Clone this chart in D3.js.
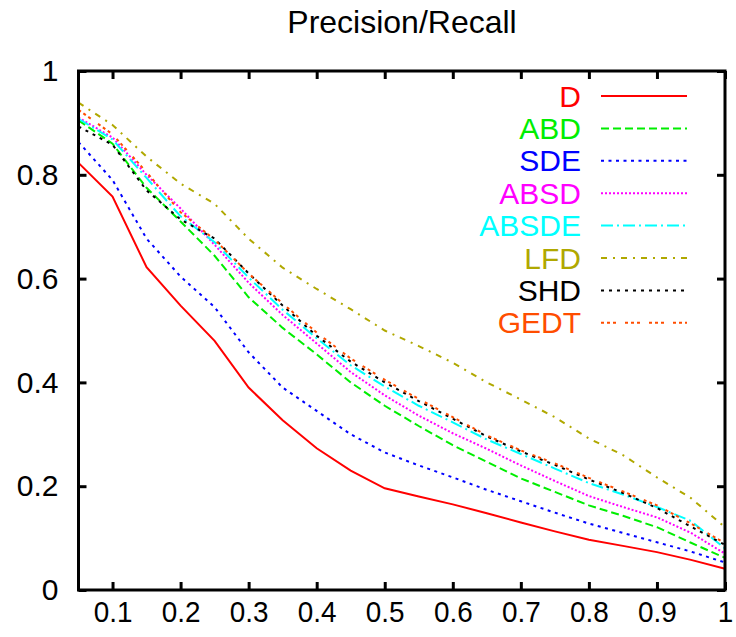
<!DOCTYPE html>
<html>
<head>
<meta charset="utf-8">
<script src="https://cdn.jsdelivr.net/npm/d3@7"></script>
<style>
    body { margin: 0; background: #fff; }
    svg { display: block; font-family: "Liberation Sans", Arial, sans-serif; }
</style>
</head>
<body>
<svg id="chart" width="736" height="637"></svg>
<script>
// recall values (x) shared by every curve
const recall = [0.05, 0.1, 0.15, 0.2, 0.25, 0.3, 0.35, 0.4, 0.45, 0.5,
    0.55, 0.6, 0.65, 0.7, 0.75, 0.8, 0.85, 0.9, 0.95, 1.0];

// precision per method
const d_values = [0.823, 0.758, 0.622, 0.548, 0.48, 0.39, 0.327, 0.273, 0.23, 0.196,
    0.18, 0.165, 0.148, 0.13, 0.113, 0.097, 0.085, 0.073, 0.058, 0.041];
const abd_values = [0.905, 0.86, 0.775, 0.71, 0.644, 0.564, 0.505, 0.454, 0.40, 0.355,
    0.316, 0.279, 0.247, 0.215, 0.189, 0.163, 0.143, 0.121, 0.091, 0.062];
const sde_values = [0.863, 0.79, 0.677, 0.604, 0.545, 0.458, 0.39, 0.345, 0.30, 0.265,
    0.24, 0.217, 0.193, 0.171, 0.149, 0.128, 0.11, 0.092, 0.074, 0.053];
const absd_values = [0.91, 0.872, 0.8, 0.735, 0.665, 0.592, 0.53, 0.475, 0.42, 0.375,
    0.336, 0.302, 0.272, 0.24, 0.21, 0.181, 0.16, 0.14, 0.11, 0.07];
const absde_values = [0.908, 0.868, 0.794, 0.72, 0.67, 0.602, 0.54, 0.485, 0.433, 0.392,
    0.355, 0.323, 0.29, 0.262, 0.234, 0.206, 0.184, 0.16, 0.133, 0.08];
const lfd_values = [0.939, 0.896, 0.835, 0.783, 0.744, 0.677, 0.621, 0.58, 0.541, 0.5,
    0.47, 0.438, 0.40, 0.367, 0.333, 0.292, 0.26, 0.217, 0.177, 0.121];
const shd_values = [0.893, 0.858, 0.77, 0.714, 0.677, 0.61, 0.548, 0.49, 0.44, 0.40,
    0.364, 0.33, 0.296, 0.267, 0.241, 0.213, 0.187, 0.158, 0.122, 0.087];
const gedt_values = [0.925, 0.878, 0.805, 0.728, 0.675, 0.61, 0.552, 0.496, 0.446, 0.405,
    0.368, 0.333, 0.298, 0.269, 0.244, 0.216, 0.19, 0.163, 0.128, 0.09];

const series_names = ['D', 'ABD', 'SDE', 'ABSD', 'ABSDE', 'LFD', 'SHD', 'GEDT'];
const series_values = [d_values, abd_values, sde_values, absd_values,
    absde_values, lfd_values, shd_values, gedt_values];

const x_ticks = [0.1, 0.2, 0.3, 0.4, 0.5, 0.6, 0.7, 0.8, 0.9, 1];
const y_ticks = [0, 0.2, 0.4, 0.6, 0.8, 1];

// gnuplot-like line styles
const colors = ['#ff0000', '#00ee00', '#0000ff', '#ff00ff', '#00ffff', '#b0a800', '#000000', '#ff4d00'];
const dashes = [null, '8,4', '3,4.5', '2,2', '12,4,2,4', '6,6,2,6', '3,5', '3,3,3,3,3,9'];

let svg = d3.select('#chart');

let plot_left = 78.5, plot_right = 725, plot_top = 71, plot_bottom = 590;

let x = d3.scaleLinear().domain([0.05, 1]).range([plot_left, plot_right]);
let y = d3.scaleLinear().domain([0, 1]).range([plot_bottom, plot_top]);

// title
svg.append('text')
    .attr('x', 402)
    .attr('y', 33)
    .attr('text-anchor', 'middle')
    .style('font-size', '32px')
    .text('Precision/Recall');

function styleAxis(g) {
    g.select('.domain').remove();
    g.selectAll('.tick line').attr('stroke', '#000').attr('stroke-width', 3);
    g.selectAll('.tick text').style('font-size', '30px').attr('fill', '#000');
}

// bottom axis with inward ticks
svg.append('g')
    .attr('transform', 'translate(0,' + plot_bottom + ')')
    .call(d3.axisBottom(x).tickValues(x_ticks).tickSize(-8).tickPadding(11)
        .tickFormat(d => d === 1 ? '1' : d3.format('.1f')(d)))
    .call(styleAxis)
    .selectAll('.tick text')
    .attr('transform', 'scale(0.93,1)');

// mirrored top axis
svg.append('g')
    .attr('transform', 'translate(0,' + plot_top + ')')
    .call(d3.axisTop(x).tickValues(x_ticks).tickSize(-8).tickFormat(''))
    .call(styleAxis);

// left axis
svg.append('g')
    .attr('transform', 'translate(' + plot_left + ',0)')
    .call(d3.axisLeft(y).tickValues(y_ticks).tickSize(-8).tickPadding(20)
        .tickFormat(d => d === 0 || d === 1 ? String(d) : d3.format('.1f')(d)))
    .call(styleAxis);

// mirrored right axis
svg.append('g')
    .attr('transform', 'translate(' + plot_right + ',0)')
    .call(d3.axisRight(y).tickValues(y_ticks).tickSize(-8).tickFormat(''))
    .call(styleAxis);

// curves
let line = d3.line()
    .x((d, i) => x(recall[i]))
    .y(d => y(d));

let curves = svg.append('g');

series_values.forEach(function (values, i) {
    curves.append('path')
        .attr('d', line(values))
        .attr('fill', 'none')
        .attr('stroke', colors[i])
        .attr('stroke-width', 2)
        .attr('stroke-dasharray', dashes[i]);
});

// legend
let legend = svg.append('g');

series_names.forEach(function (name, i) {
    let ly = 96 + i * 32.4;
    legend.append('text')
        .attr('x', 581)
        .attr('y', ly)
        .attr('dy', '0.35em')
        .attr('text-anchor', 'end')
        .attr('fill', colors[i])
        .style('font-size', '30px')
        .text(name);
    legend.append('line')
        .attr('x1', 601)
        .attr('x2', 687)
        .attr('y1', ly)
        .attr('y2', ly)
        .attr('stroke', colors[i])
        .attr('stroke-width', 2)
        .attr('stroke-dasharray', dashes[i]);
});

// frame
svg.append('rect')
    .attr('x', plot_left)
    .attr('y', plot_top)
    .attr('width', plot_right - plot_left)
    .attr('height', plot_bottom - plot_top)
    .attr('fill', 'none')
    .attr('stroke', '#000')
    .attr('stroke-width', 3);
</script>
</body>
</html>
